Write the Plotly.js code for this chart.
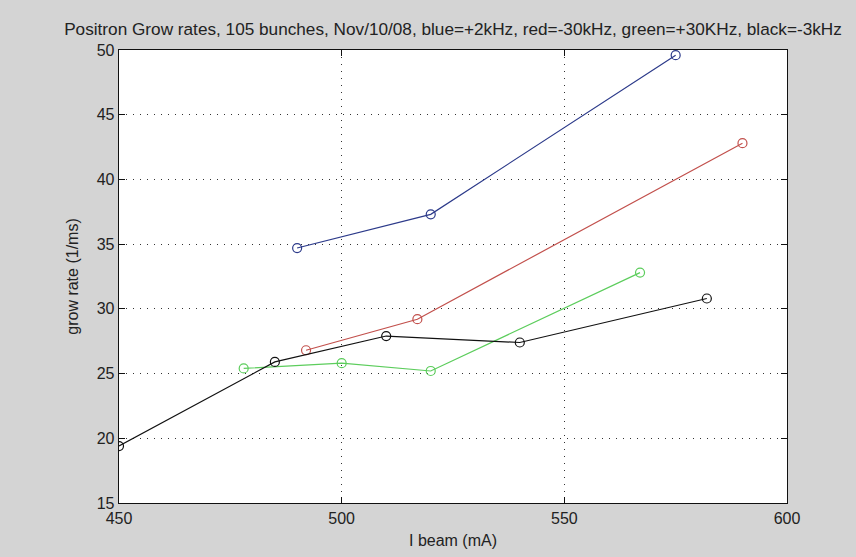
<!DOCTYPE html>
<html>
<head>
<meta charset="utf-8">
<script src="https://cdn.plot.ly/plotly-3.0.1.min.js"></script>
<style>
  html, body { margin: 0; padding: 0; background: #d4d4d4; }
  #chart { width: 856px; height: 557px; }
</style>
</head>
<body>
<div id="chart"></div>
<script>
// Beam current (mA) and measured grow rates (1/ms) for each tune setting
const blueCurrent  = [490, 520, 575];
const blueRate     = [34.7, 37.3, 49.6];

const redCurrent   = [492, 517, 590];
const redRate      = [26.8, 29.2, 42.8];

const greenCurrent = [478, 500, 520, 567];
const greenRate    = [25.4, 25.8, 25.2, 32.8];

const blackCurrent = [450, 485, 510, 540, 582];
const blackRate    = [19.4, 25.9, 27.9, 27.4, 30.8];

const xTicks = [450, 500, 550, 600];
const yTicks = [15, 20, 25, 30, 35, 40, 45, 50];

const FONT = "'Liberation Sans', Arial, Helvetica, sans-serif";

function series(x, y, color) {
  return {
    x: x, y: y, type: 'scatter', mode: 'lines+markers',
    line: { color: color, width: 1.2 },
    marker: { symbol: 'circle-open', size: 9, color: color, line: { width: 1.2, color: color } },
    hoverinfo: 'x+y', showlegend: false
  };
}

const data = [
  series(blueCurrent, blueRate, '#2c3a8a'),
  series(redCurrent, redRate, '#c2504c'),
  series(greenCurrent, greenRate, '#5ccd5c'),
  series(blackCurrent, blackRate, '#111111')
];

const axisCommon = {
  showline: true, linecolor: '#111', linewidth: 1.3, mirror: 'ticks',
  ticks: 'inside', ticklen: 6, tickcolor: '#111', tickwidth: 1,
  showgrid: true, gridcolor: '#333', griddash: '1px,6px', gridwidth: 1,
  zeroline: false, tickfont: { family: FONT, size: 16, color: '#222' }
};

const layout = {
  width: 856, height: 557,
  paper_bgcolor: '#d4d4d4', plot_bgcolor: '#ffffff',
  margin: { l: 119, r: 69, t: 50, b: 54 },
  title: {
    text: 'Positron Grow rates, 105 bunches, Nov/10/08, blue=+2kHz, red=-30kHz, green=+30KHz, black=-3kHz',
    font: { family: FONT, size: 17.2, color: '#222' },
    xref: 'paper', x: 0.5, xanchor: 'center',
    yref: 'container', y: 1 - 29 / 557, yanchor: 'middle'
  },
  xaxis: Object.assign({}, axisCommon, {
    range: [450, 600], tickmode: 'array', tickvals: xTicks, ticktext: xTicks.map(String),
    title: { text: 'I beam (mA)', font: { family: FONT, size: 16, color: '#222' }, standoff: 9 }
  }),
  yaxis: Object.assign({}, axisCommon, {
    range: [15, 50], tickmode: 'array', tickvals: yTicks, ticktext: yTicks.map(String),
    title: { text: 'grow rate (1/ms)', font: { family: FONT, size: 16, color: '#222' }, standoff: 14 }
  })
};

Plotly.newPlot('chart', data, layout, { displayModeBar: false, staticPlot: true });
</script>
</body>
</html>
